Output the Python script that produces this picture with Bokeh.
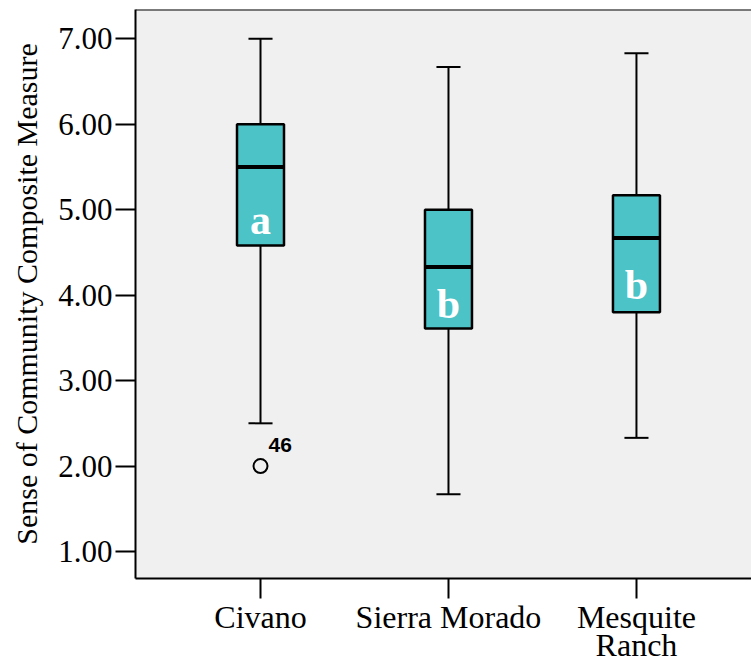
from bokeh.plotting import figure
from bokeh.models import Range1d, FixedTicker, Span, ColumnDataSource
from bokeh.core.properties import value
from bokeh.transform import dodge
from bokeh.embed import file_html
from bokeh.resources import INLINE

# ---- data ----
categories = ["Civano", "Sierra Morado", "Mesquite\nRanch"]
positions = [1, 2, 3]
whisker_low = [2.50, 1.67, 2.33]
q1 = [4.58, 3.61, 3.80]
median = [5.50, 4.33, 4.67]
q3 = [6.00, 5.00, 5.17]
whisker_high = [7.00, 6.67, 6.83]
group_letters = ["a", "b", "b"]
letter_y = [4.88, 3.90, 4.12]
outlier_x = [1]
outlier_y = [2.00]
outlier_labels = ["46"]
y_ticks = [1, 2, 3, 4, 5, 6, 7]

BOX_FILL = "#4CC3C6"
BG = "#F0F0F0"
SERIF = "Liberation Serif"
Y_TOP = 7.343
Y_BOTTOM = 0.684

p = figure(width=751, height=666, output_backend="svg", toolbar_location=None,
           x_range=Range1d(0.335, 3.612), y_range=Range1d(Y_BOTTOM, Y_TOP),
           min_border_left=135, min_border_right=0, min_border_top=9, min_border_bottom=60)
p.background_fill_color = BG
p.border_fill_color = "white"
p.outline_line_color = None
p.xgrid.visible = False
p.ygrid.visible = False

src = ColumnDataSource(dict(x=positions, wl=whisker_low, q1=q1, med=median, q3=q3, wh=whisker_high,
                            lt=group_letters, ly=letter_y))

# whiskers
p.segment(x0="x", y0="wl", x1="x", y1="q1", source=src, line_color="black", line_width=2)
p.segment(x0="x", y0="q3", x1="x", y1="wh", source=src, line_color="black", line_width=2)
cap = 0.064
p.segment(x0=dodge("x", -cap), y0="wl", x1=dodge("x", cap), y1="wl", source=src, line_color="black", line_width=2)
p.segment(x0=dodge("x", -cap), y0="wh", x1=dodge("x", cap), y1="wh", source=src, line_color="black", line_width=2)
# boxes
p.vbar(x="x", width=0.25, bottom="q1", top="q3", source=src, fill_color=BOX_FILL,
       line_color="black", line_width=2.5)
# medians
p.segment(x0=dodge("x", -0.125), y0="med", x1=dodge("x", 0.125), y1="med", source=src,
          line_color="black", line_width=4)
# letters
p.text(x="x", y="ly", text="lt", source=src, text_align="center", text_baseline="middle",
       text_font=value(SERIF), text_font_style="bold", text_font_size="42px", text_color="white")
# outlier
osrc = ColumnDataSource(dict(x=outlier_x, y=outlier_y, t=outlier_labels))
p.scatter(x="x", y="y", source=osrc, marker="circle", size=14, fill_color=None,
          line_color="black", line_width=2)
p.text(x="x", y="y", text="t", source=osrc, x_offset=8, y_offset=-21, text_align="left",
       text_baseline="middle", text_font=value("Liberation Sans"), text_font_style="bold",
       text_font_size="21px", text_color="black")

# top border (no right border in reference)
p.add_layout(Span(location=Y_TOP, dimension="width", line_color="black", line_width=2))

# axes
p.yaxis.ticker = FixedTicker(ticks=y_ticks)
p.yaxis.major_label_overrides = {t: f"{t:.2f}" for t in y_ticks}
p.xaxis.ticker = FixedTicker(ticks=positions)
p.xaxis.major_label_overrides = {pos: c for pos, c in zip(positions, categories)}
for ax in (p.xaxis[0], p.yaxis[0]):
    ax.axis_line_width = 2
    ax.axis_line_color = "black"
    ax.major_tick_line_width = 2
    ax.major_tick_line_color = "black"
    ax.major_tick_in = 0
    ax.major_tick_out = 20
    ax.minor_tick_line_color = None
    ax.major_label_text_font = SERIF
    ax.major_label_text_color = "black"
p.yaxis.major_label_text_font_size = "31px"
p.yaxis.major_label_standoff = 3
p.xaxis.major_label_text_font_size = "32px"
p.xaxis.major_label_text_line_height = 0.8
p.xaxis.major_label_standoff = 0
p.yaxis.axis_label = "Sense of Community Composite Measure"
p.yaxis.axis_label_text_font = SERIF
p.yaxis.axis_label_text_font_style = "normal"
p.yaxis.axis_label_text_font_size = "30px"
p.yaxis.axis_label_text_color = "black"
p.yaxis.axis_label_standoff = 12

open("out.html", "w").write(file_html(p, INLINE))
